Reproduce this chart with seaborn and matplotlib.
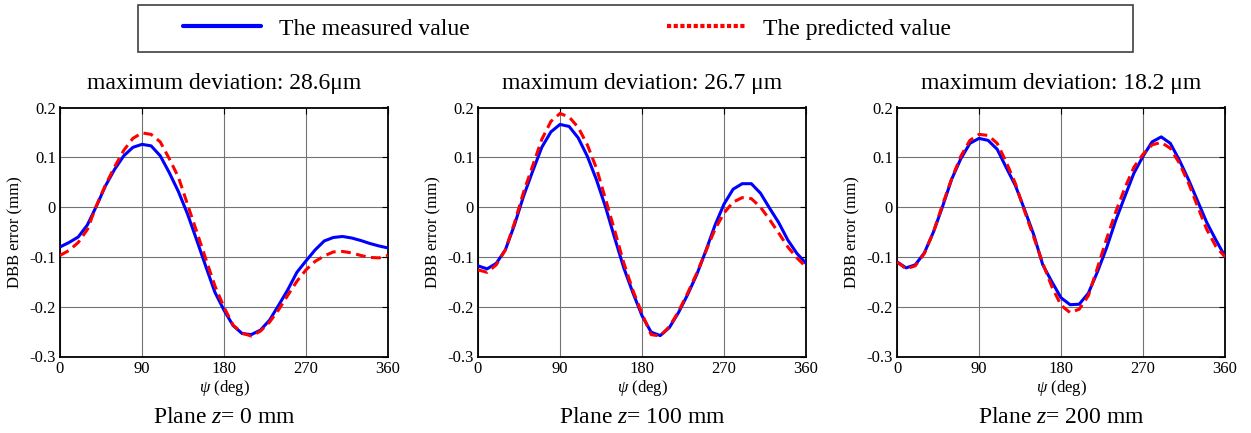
import numpy as np
import pandas as pd
import matplotlib
matplotlib.use("Agg")
import matplotlib.pyplot as plt
from matplotlib.lines import Line2D
from matplotlib.patches import Rectangle
import seaborn as sns

angles = list(range(0, 361, 10))

measured_z0 = [-0.080, -0.071, -0.060, -0.036, 0.002, 0.043, 0.076, 0.103, 0.120, 0.126,
               0.123, 0.103, 0.069, 0.031, -0.014, -0.066, -0.119, -0.171, -0.207, -0.238,
               -0.254, -0.256, -0.247, -0.227, -0.197, -0.166, -0.131, -0.108, -0.086, -0.068,
               -0.061, -0.059, -0.062, -0.067, -0.073, -0.078, -0.082]
predicted_z0 = [-0.097, -0.087, -0.071, -0.045, 0.003, 0.045, 0.081, 0.114, 0.138, 0.149,
                0.146, 0.131, 0.097, 0.060, 0.005, -0.049, -0.104, -0.158, -0.201, -0.237,
                -0.253, -0.259, -0.249, -0.231, -0.206, -0.177, -0.149, -0.126, -0.109, -0.098,
                -0.090, -0.089, -0.092, -0.097, -0.101, -0.102, -0.097]

measured_z100 = [-0.118, -0.124, -0.113, -0.086, -0.036, 0.022, 0.072, 0.120, 0.151, 0.166,
                 0.162, 0.139, 0.102, 0.055, 0.000, -0.062, -0.122, -0.172, -0.218, -0.251,
                 -0.258, -0.242, -0.212, -0.176, -0.136, -0.088, -0.037, 0.006, 0.036, 0.047,
                 0.047, 0.028, -0.002, -0.031, -0.066, -0.093, -0.113]
predicted_z100 = [-0.126, -0.131, -0.116, -0.086, -0.032, 0.030, 0.083, 0.136, 0.172, 0.188,
                  0.181, 0.160, 0.125, 0.078, 0.016, -0.047, -0.112, -0.167, -0.214, -0.256,
                  -0.259, -0.240, -0.210, -0.173, -0.133, -0.089, -0.045, -0.012, 0.010, 0.019,
                  0.017, 0.000, -0.025, -0.052, -0.080, -0.102, -0.120]

measured_z200 = [-0.110, -0.122, -0.116, -0.092, -0.050, 0.001, 0.056, 0.097, 0.128, 0.138,
                 0.134, 0.116, 0.079, 0.043, -0.005, -0.055, -0.116, -0.150, -0.182, -0.196,
                 -0.195, -0.173, -0.130, -0.082, -0.027, 0.021, 0.068, 0.102, 0.131, 0.141,
                 0.128, 0.094, 0.055, 0.012, -0.031, -0.066, -0.099]
predicted_z200 = [-0.110, -0.124, -0.118, -0.093, -0.050, 0.005, 0.057, 0.102, 0.134, 0.146,
                  0.144, 0.128, 0.090, 0.047, -0.008, -0.060, -0.113, -0.160, -0.197, -0.212,
                  -0.205, -0.178, -0.122, -0.064, -0.010, 0.038, 0.080, 0.106, 0.125, 0.130,
                  0.118, 0.088, 0.048, 0.001, -0.045, -0.079, -0.100]

titles = ["maximum deviation: 28.6\u03bcm",
          "maximum deviation: 26.7 \u03bcm",
          "maximum deviation: 18.2 \u03bcm"]
plane_labels = ["Plane $z$= 0 mm", "Plane $z$= 100 mm", "Plane $z$= 200 mm"]

xticks = [0, 90, 180, 270, 360]
yticks = [-0.3, -0.2, -0.1, 0, 0.1, 0.2]
ylabels = ["-0.3", "-0.2", "-0.1", "0", "0.1", "0.2"]

# Стиль
sns.set_style("white")
plt.rcParams["font.family"] = ["Liberation Serif", "DejaVu Serif"]
plt.rcParams["mathtext.fontset"] = "custom"
plt.rcParams["mathtext.rm"] = "Liberation Serif"
plt.rcParams["mathtext.it"] = "Liberation Serif:italic"
plt.rcParams["axes.unicode_minus"] = False
plt.rcParams["text.color"] = "black"
plt.rcParams["axes.labelcolor"] = "black"

fig = plt.figure(figsize=(12.51, 4.33), dpi=100)
W, H = 1251, 433

# Положение осей (в пикселях исходного рисунка)
lefts = [60, 478, 897]
ax_w = 328
ax_top, ax_bot = 107.5, 356.5

panels = [(measured_z0, predicted_z0), (measured_z100, predicted_z100),
          (measured_z200, predicted_z200)]

for i, (meas, pred) in enumerate(panels):
    ax = fig.add_axes([lefts[i] / W, 1 - ax_bot / H, ax_w / W, (ax_bot - ax_top) / H])
    df = pd.DataFrame({"psi": angles, "measured": meas, "predicted": pred})
    sns.lineplot(data=df, x="psi", y="measured", ax=ax, color="#0000ff", lw=2.2,
                 estimator=None, sort=False, zorder=3)
    sns.lineplot(data=df, x="psi", y="predicted", ax=ax, color="#ff0000", lw=2.2,
                 linestyle=(0, (3.2, 1.8)), estimator=None, sort=False, zorder=4)

    ax.set_xlim(0, 360)
    ax.set_ylim(-0.3, 0.2)
    ax.set_xticks(xticks)
    ax.set_yticks(yticks, labels=ylabels)
    ax.grid(True, color="0.45", lw=0.8)
    ax.tick_params(direction="in", top=True, right=True, length=4, width=0.8,
                   labelsize=12, pad=3, colors="black")
    for s in ax.spines.values():
        s.set_linewidth(1.3)
        s.set_color("black")

    ax.set_xlabel(r"$\psi$ (deg)", fontsize=12, labelpad=1)
    ax.set_ylabel("DBB error (mm)", fontsize=12, labelpad=4)
    ax.set_title(titles[i], fontsize=17, pad=13)
    ax.text(0.5, -0.245, plane_labels[i], transform=ax.transAxes, fontsize=17,
            ha="center", va="center")

# Рамка легенды и сама легенда
fig.patches.append(Rectangle((138 / W, 1 - 52 / H), 995 / W, 47 / H, transform=fig.transFigure,
                             fill=False, edgecolor="0.25", lw=1.2))
handles = [Line2D([], [], color="#0000ff", lw=3),
           Line2D([], [], color="#ff0000", lw=3, linestyle=(0, (1, 0.6)))]
fig.legend(handles, ["The measured value", "The predicted value"], loc="center left",
           bbox_to_anchor=(174 / W, 1 - 29 / H), ncol=2, frameon=False, fontsize=17,
           handlelength=3.3, handletextpad=0.75, columnspacing=8.35, borderaxespad=0)

fig.savefig("out.png", dpi=100)
